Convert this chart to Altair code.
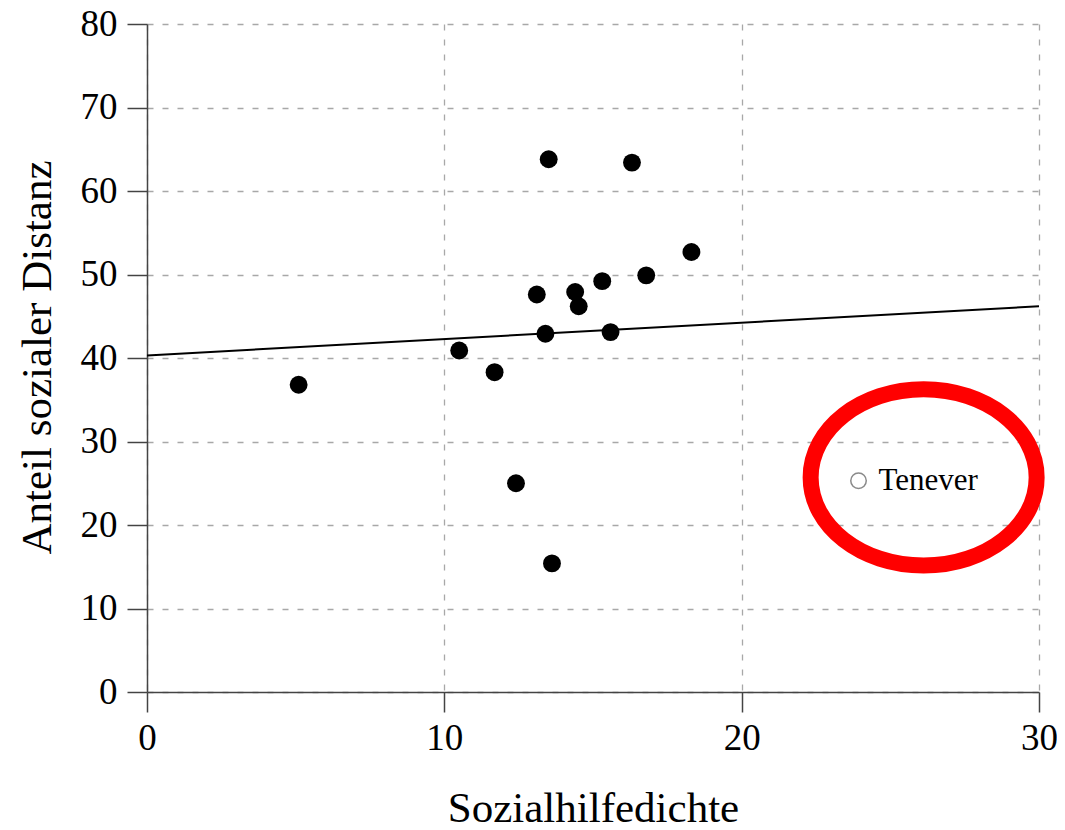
import altair as alt
import pandas as pd

# Data
sozialhilfe = [5.10, 10.50, 11.69, 12.41, 13.11, 13.40, 13.51, 13.62, 14.40, 14.52, 15.31, 15.59, 16.31, 16.79, 18.31]
distanz = [36.8, 40.9, 38.3, 25.0, 47.6, 42.9, 63.8, 15.4, 47.9, 46.2, 49.2, 43.1, 63.4, 49.9, 52.7]

outlier_name = ["Tenever"]
outlier_x = [23.93]
outlier_y = [25.3]

fit_x = [0, 30]
fit_y = [40.3, 46.2]

# red highlight ellipse around the outlier (annotation)
ring_x = [26.12]
ring_y = [25.7]

x_ticks = [0, 10, 20, 30]
y_ticks = [0, 10, 20, 30, 40, 50, 60, 70, 80]

pts = pd.DataFrame({"x": sozialhilfe, "y": distanz})
out = pd.DataFrame({"x": outlier_x, "y": outlier_y, "name": outlier_name})
fit = pd.DataFrame({"x": fit_x, "y": fit_y})
ring = pd.DataFrame({"x": ring_x, "y": ring_y})

FONT = "Liberation Serif"

xs = alt.Scale(domain=[0, 30], nice=False, zero=False)
ys = alt.Scale(domain=[0, 80], nice=False, zero=False)

xax = alt.Axis(values=x_ticks, title="Sozialhilfedichte", grid=True,
               labelPadding=8, titlePadding=31, labelFlush=False)
yax = alt.Axis(values=y_ticks, title="Anteil sozialer Distanz", grid=True,
               labelPadding=10, titleX=-97, titleY=333, titleAngle=-90,
               titleBaseline="alphabetic", titleAlign="center", labelFlush=False)

base_pts = alt.Chart(pts).mark_circle(size=320, color="black", opacity=1).encode(
    x=alt.X("x:Q", scale=xs, axis=xax),
    y=alt.Y("y:Q", scale=ys, axis=yax),
)

line = alt.Chart(fit).mark_line(color="black", strokeWidth=2, clip=True).encode(
    x=alt.X("x:Q", scale=xs),
    y=alt.Y("y:Q", scale=ys),
)

out_pt = alt.Chart(out).mark_point(shape="circle", size=240, filled=False,
                                    color="#8a8a8a", strokeWidth=1.5, opacity=1).encode(
    x=alt.X("x:Q", scale=xs),
    y=alt.Y("y:Q", scale=ys),
)

out_lbl = alt.Chart(out).mark_text(font=FONT, fontSize=31, color="black",
                                   align="left", baseline="middle", dx=20, dy=0).encode(
    x=alt.X("x:Q", scale=xs),
    y=alt.Y("y:Q", scale=ys),
    text="name:N",
)

k = 0.5523
ry = 0.78
ell = (f"M 1 0 C 1 {k*ry:.4f} {k:.4f} {ry} 0 {ry} "
       f"C {-k:.4f} {ry} -1 {k*ry:.4f} -1 0 "
       f"C -1 {-k*ry:.4f} {-k:.4f} {-ry} 0 {-ry} "
       f"C {k:.4f} {-ry} 1 {-k*ry:.4f} 1 0 Z")

ring_mark = alt.Chart(ring).mark_point(shape=ell, size=226 * 226, filled=False,
                                       color="#ff0000", strokeWidth=16, opacity=1).encode(
    x=alt.X("x:Q", scale=xs),
    y=alt.Y("y:Q", scale=ys),
)

chart = alt.layer(base_pts, line, out_pt, out_lbl, ring_mark).properties(
    width=892, height=668,
    autosize=alt.AutoSizeParams(type="none"),
    padding={"left": 139, "top": 16, "right": 18, "bottom": 140},
).configure_view(stroke=None).configure_axis(
    domainColor="#444444", domainWidth=1.5,
    tickColor="#444444", tickWidth=1.5, tickSize=20,
    labelFont=FONT, labelFontSize=37, labelColor="black",
    titleFont=FONT, titleFontSize=43, titleFontWeight="normal", titleColor="black",
    gridColor="#a8a8a8", gridDash=[6, 9], gridWidth=1.3,
).configure_axisX(labelAngle=0)

chart.save("out.html", embed_options={"renderer": "svg", "actions": False})
